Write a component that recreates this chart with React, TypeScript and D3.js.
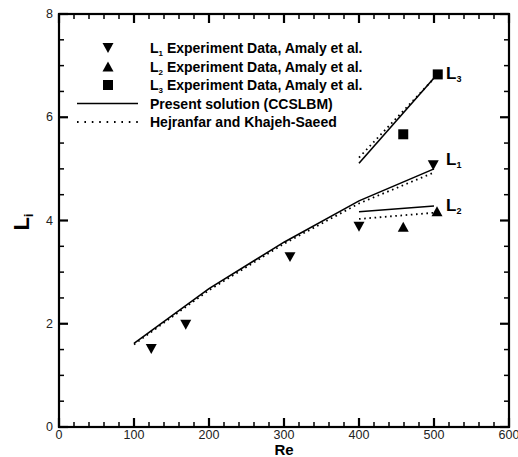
import React from "react";
import * as d3 from "d3";

const xTicks = [0, 100, 200, 300, 400, 500, 600];
const yTicks = [0, 2, 4, 6, 8];

const l1ExpRe = [123, 169, 308, 400, 499];
const l1ExpL = [1.51, 1.98, 3.29, 3.88, 5.07];
const l2ExpRe = [459, 504];
const l2ExpL = [3.88, 4.18];
const l3ExpRe = [459, 505];
const l3ExpL = [5.67, 6.83];

const presL1Re = [100, 200, 300, 400, 500];
const presL1 = [1.62, 2.68, 3.58, 4.38, 5.0];
const presL2Re = [400, 500];
const presL2 = [4.17, 4.28];
const presL3Re = [400, 500];
const presL3 = [5.11, 6.76];

const hejL1Re = [100, 200, 300, 400, 500];
const hejL1 = [1.6, 2.65, 3.55, 4.33, 4.93];
const hejL2Re = [400, 500];
const hejL2 = [4.03, 4.15];
const hejL3Re = [400, 500];
const hejL3 = [5.22, 6.75];

const legendLabels = [
  "Experiment Data, Amaly et al.",
  "Experiment Data, Amaly et al.",
  "Experiment Data, Amaly et al.",
  "Present solution (CCSLBM)",
  "Hejranfar and Khajeh-Saeed",
];

const W = 518;
const H = 457;
const PL = 59;
const PR = 509;
const PT = 14;
const PB = 427;
const FONT = "'Liberation Sans', Arial, Helvetica, sans-serif";

const x = d3.scaleLinear().domain([0, 600]).range([PL, PR]);
const y = d3.scaleLinear().domain([0, 8]).range([PB, PT]);

const line = d3
  .line<[number, number]>()
  .x((d) => x(d[0]))
  .y((d) => y(d[1]));

const zip = (a: number[], b: number[]) => a.map((v, i) => [v, b[i]] as [number, number]);

const down = (cx: number, cy: number, s = 11) =>
  `M${cx - s / 2},${cy - s * 0.45}L${cx + s / 2},${cy - s * 0.45}L${cx},${cy + s * 0.45}Z`;
const up = (cx: number, cy: number, s = 11) =>
  `M${cx - s / 2},${cy + s * 0.45}L${cx + s / 2},${cy + s * 0.45}L${cx},${cy - s * 0.45}Z`;
const sq = (cx: number, cy: number, s = 10) =>
  `M${cx - s / 2},${cy - s / 2}h${s}v${s}h${-s}Z`;

export default function App() {
  const xAll = d3.range(0, 601, 20);
  const yAll = d3.range(0, 17).map((i) => i * 0.5);
  const tickSegs: { x1: number; y1: number; x2: number; y2: number; major: boolean }[] = [];
  xAll.forEach((v) => {
    const major = v % 100 === 0;
    const len = major ? 9 : 5;
    const px = x(v);
    tickSegs.push({ x1: px, y1: PB, x2: px, y2: PB - len, major });
    tickSegs.push({ x1: px, y1: PT, x2: px, y2: PT + len, major });
  });
  yAll.forEach((v, i) => {
    const major = i % 4 === 0;
    const len = major ? 9 : 5;
    const py = y(v);
    tickSegs.push({ x1: PL, y1: py, x2: PL + len, y2: py, major });
    tickSegs.push({ x1: PR, y1: py, x2: PR - len, y2: py, major });
  });
  const dash = "1.6 3.6";
  const legY = [48, 66.5, 85, 103.5, 122];
  return (
    <svg
      width={W}
      height={H}
      style={{ position: "absolute", left: 0, top: 0, background: "#fff" }}
      fontFamily={FONT}
    >
      <rect
        x={PL}
        y={PT}
        width={PR - PL}
        height={PB - PT}
        fill="none"
        stroke="#000"
        strokeWidth={2.2}
      />
      <g stroke="#000">
        {tickSegs.map((t, i) => (
          <line
            key={"t" + i}
            x1={t.x1}
            y1={t.y1}
            x2={t.x2}
            y2={t.y2}
            strokeWidth={t.major ? 2.2 : 1.5}
          />
        ))}
      </g>
      {xTicks.map((v) => (
        <text key={"xt" + v} x={x(v)} y={439} fontSize={12.5} textAnchor="middle" fill="#222">
          {v}
        </text>
      ))}
      {yTicks.map((v) => (
        <text key={"yt" + v} x={53} y={y(v) + 4} fontSize={12.5} textAnchor="end" fill="#222">
          {v}
        </text>
      ))}
      <text x={284} y={455} fontSize={15} fontWeight="bold" textAnchor="middle">
        Re
      </text>
      <text transform="translate(29,222) rotate(-90)" fontSize={22} fontWeight="bold" textAnchor="middle">
        L<tspan fontSize={12} dy={4}>i</tspan>
      </text>

      <g fill="none" stroke="#000" strokeWidth={1.6}>
        <path d={line(zip(presL1Re, presL1))!} />
        <path d={line(zip(presL2Re, presL2))!} />
        <path d={line(zip(presL3Re, presL3))!} />
      </g>
      <g fill="none" stroke="#000" strokeWidth={1.8} strokeDasharray={dash}>
        <path d={line(zip(hejL1Re, hejL1))!} />
        <path d={line(zip(hejL2Re, hejL2))!} />
        <path d={line(zip(hejL3Re, hejL3))!} />
      </g>

      <g fill="#000">
        {l1ExpRe.map((r, i) => (
          <path key={"a" + i} d={down(x(r), y(l1ExpL[i]))} />
        ))}
        {l2ExpRe.map((r, i) => (
          <path key={"b" + i} d={up(x(r), y(l2ExpL[i]))} />
        ))}
        {l3ExpRe.map((r, i) => (
          <path key={"c" + i} d={sq(x(r), y(l3ExpL[i]))} />
        ))}
      </g>

      {[
        ["3", 73],
        ["1", 159],
        ["2", 205],
      ].map(([s, yy]) => (
        <text key={"cl" + s} x={446} y={(yy as number) + 6} fontSize={17} fontWeight="bold">
          L<tspan fontSize={9} dy={3}>{s}</tspan>
        </text>
      ))}

      <g fill="#000">
        <path d={down(108, legY[0])} />
        <path d={up(108, legY[1])} />
        <path d={sq(108, legY[2])} />
      </g>
      <line x1={77} x2={138} y1={legY[3]} y2={legY[3]} stroke="#000" strokeWidth={1.6} />
      <line
        x1={77}
        x2={138}
        y1={legY[4]}
        y2={legY[4]}
        stroke="#000"
        strokeWidth={1.8}
        strokeDasharray="1.6 5.8"
      />
      {legendLabels.map((t, i) => (
        <text key={"lg" + i} x={150} y={legY[i] + 5} fontSize={14} fontWeight="bold">
          {i < 3 ? (
            <>
              L<tspan fontSize={8} dy={3}>{i + 1}</tspan>
              <tspan dy={-3}> {t}</tspan>
            </>
          ) : (
            t
          )}
        </text>
      ))}
    </svg>
  );
}
